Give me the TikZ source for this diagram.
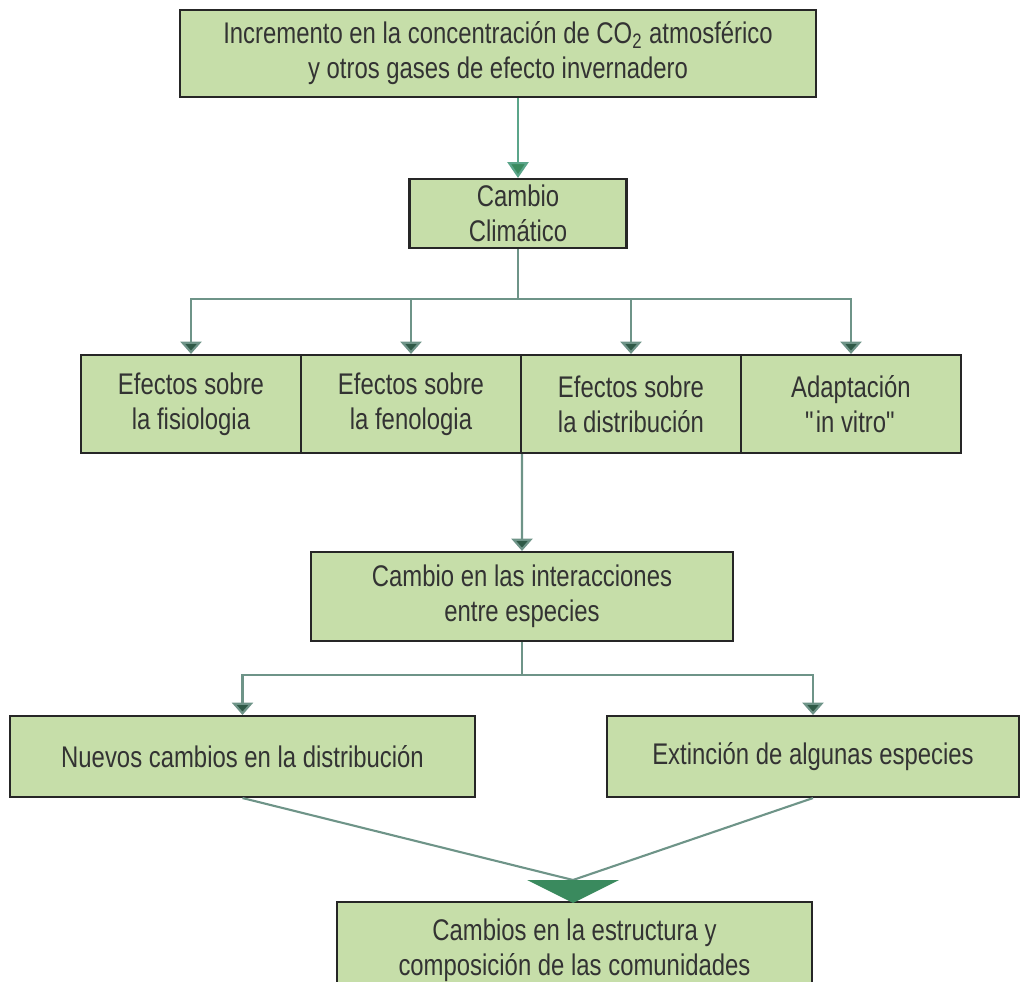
\documentclass[tikz,border=0pt]{standalone}
\usepackage{fontspec}
\setmainfont{Liberation Sans}[FakeStretch=0.8]
\usetikzlibrary{arrows.meta, positioning}
\definecolor{boxgreen}{HTML}{C6DEA9}
\definecolor{linegray}{HTML}{6E9488}
\definecolor{headgreen}{HTML}{2F5A47}
\definecolor{bighead}{HTML}{3A8A5E}
\definecolor{toparrow}{HTML}{5BA58A}
\begin{document}
\begin{tikzpicture}[x=0.02cm, y=-0.02cm,
    box/.style={draw=black!85, line width=1.2pt, fill=boxgreen, align=center,
      inner sep=2pt, font=\fontsize{17}{20}\selectfont, text=black!80},
    conn/.style={draw=linegray, line width=1.2pt,
      -{Triangle[length=7pt, width=12pt, fill=headgreen]}}]
            \useasboundingbox (0,0) rectangle (1021,982);
            \node [box, minimum width=12.72cm, minimum height=1.74cm] (top) at (498,53.5)
              {Incremento en la concentración de CO\textsubscript{2} atmosférico\\y otros gases de efecto invernadero};
            \node [box, minimum width=4.34cm, minimum height=1.38cm] (clim) at (518,213.5) {Cambio\\Climático};
            \node [box, minimum width=4.4cm, minimum height=1.96cm] (fis) at (191,404) {Efectos sobre\\la fisiologia};
            \node [box, minimum width=4.4cm, minimum height=1.96cm] (fen) at (411,404) {Efectos sobre\\la fenologia};
            \node [box, minimum width=4.4cm, minimum height=1.96cm] (dis) at (631,404) {Efectos sobre\\la distribución};
            \node [box, minimum width=4.4cm, minimum height=1.96cm] (ada) at (851,404) {Adaptación\\\textquotedbl in vitro\textquotedbl};
            \node [box, minimum width=8.44cm, minimum height=1.78cm] (inter) at (522,596.5) {Cambio en las interacciones\\entre especies};
            \node [box, minimum width=9.3cm, minimum height=1.62cm] (nue) at (242.5,756.5) {Nuevos cambios en la distribución};
            \node [box, minimum width=8.24cm, minimum height=1.62cm] (ext) at (813,756.5) {Extinción de algunas especies};
            \node [box, minimum width=9.5cm, minimum height=1.92cm] (cam) at (574.5,950) {Cambios en la estructura y\\composición de las comunidades};
            \coordinate (split1) at (518,299);
            \coordinate (split2) at (522,675);
            \coordinate (merge) at (573,880);
            \draw [conn, draw=toparrow, -{Triangle[length=9pt, width=12pt, fill=bighead]}] (top.south -| clim.north) -- (clim.north);
            \draw [linegray, line width=1.2pt] (clim.south) -- (split1);
            \foreach \n in {fis, fen, dis, ada}
              \draw [conn] (split1) -| (\n.north);
            \draw [conn] (fen.south east) -- (inter.north);
            \draw [linegray, line width=1.2pt] (inter.south) -- (split2);
            \foreach \n in {nue, ext}
              \draw [conn] (split2) -| (\n.north);
            \draw [linegray, line width=1.2pt] (nue.south) -- (merge);
            \draw [linegray, line width=1.2pt] (ext.south) -- (merge);
            \fill [bighead] (merge) ++(-46,0) -- ++(92,0) -- ++(-46,23) -- cycle;
\end{tikzpicture}
\end{document}
